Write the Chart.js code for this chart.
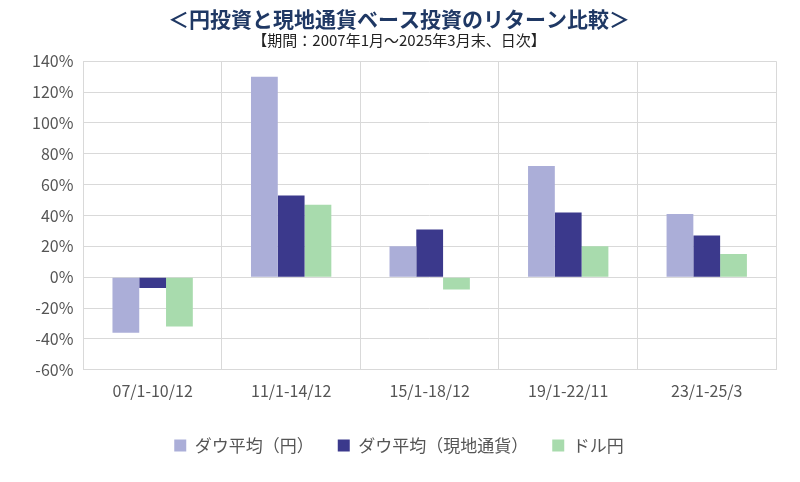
<!DOCTYPE html>
<html><head><meta charset="utf-8">
<script src="https://cdn.jsdelivr.net/npm/chart.js@4"></script>
<style>body{margin:0;background:#fff}#w{width:800px;height:482px;position:relative}</style>
</head><body><div id="w"><canvas id="c"></canvas></div>
<script>
const categories=["07/1-10/12","11/1-14/12","15/1-18/12","19/1-22/11","23/1-25/3"];
const dowYen=[-36,130,20,72,41];
const dowLocal=[-7,53,31,42,27];
const usdJpy=[-32,47,-8,20,15];
const seriesNames=["ダウ平均（円）","ダウ平均（現地通貨）","ドル円"];
const F="'Noto Sans CJK JP','Noto Sans',sans-serif";
new Chart(document.getElementById('c'),{type:'bar',
data:{labels:categories,datasets:[
{label:seriesNames[0],data:dowYen,backgroundColor:'#abaed8'},
{label:seriesNames[1],data:dowLocal,backgroundColor:'#3b398c'},
{label:seriesNames[2],data:usdJpy,backgroundColor:'#a8dbad'}]},
options:{responsive:true,maintainAspectRatio:false,animation:false,
layout:{padding:{left:22,right:24,top:4,bottom:18}},
datasets:{bar:{categoryPercentage:0.58,barPercentage:1}},
plugins:{title:{display:true,text:'＜円投資と現地通貨ベース投資のリターン比較＞',color:'#1f3864',font:{family:F,size:21,weight:'bold'},padding:{top:2,bottom:0}},
subtitle:{display:true,text:'【期間：2007年1月～2025年3月末、日次】',color:'#222',font:{family:F,size:15},padding:{top:0,bottom:12}},
legend:{position:'bottom',labels:{boxWidth:12,boxHeight:12,color:'#555',font:{family:F,size:17},padding:24}},tooltip:{enabled:false}},
scales:{x:{grid:{display:true,color:'#d9d9d9',offset:true,drawTicks:false},border:{color:'#d9d9d9'},ticks:{color:'#555',font:{family:F,size:16},padding:12}},
y:{min:-60,max:140,ticks:{stepSize:20,color:'#555',font:{family:F,size:16},padding:10,callback:v=>v+'%'},grid:{color:'#d9d9d9',drawTicks:false},border:{display:false}}}}});
</script></body></html>
